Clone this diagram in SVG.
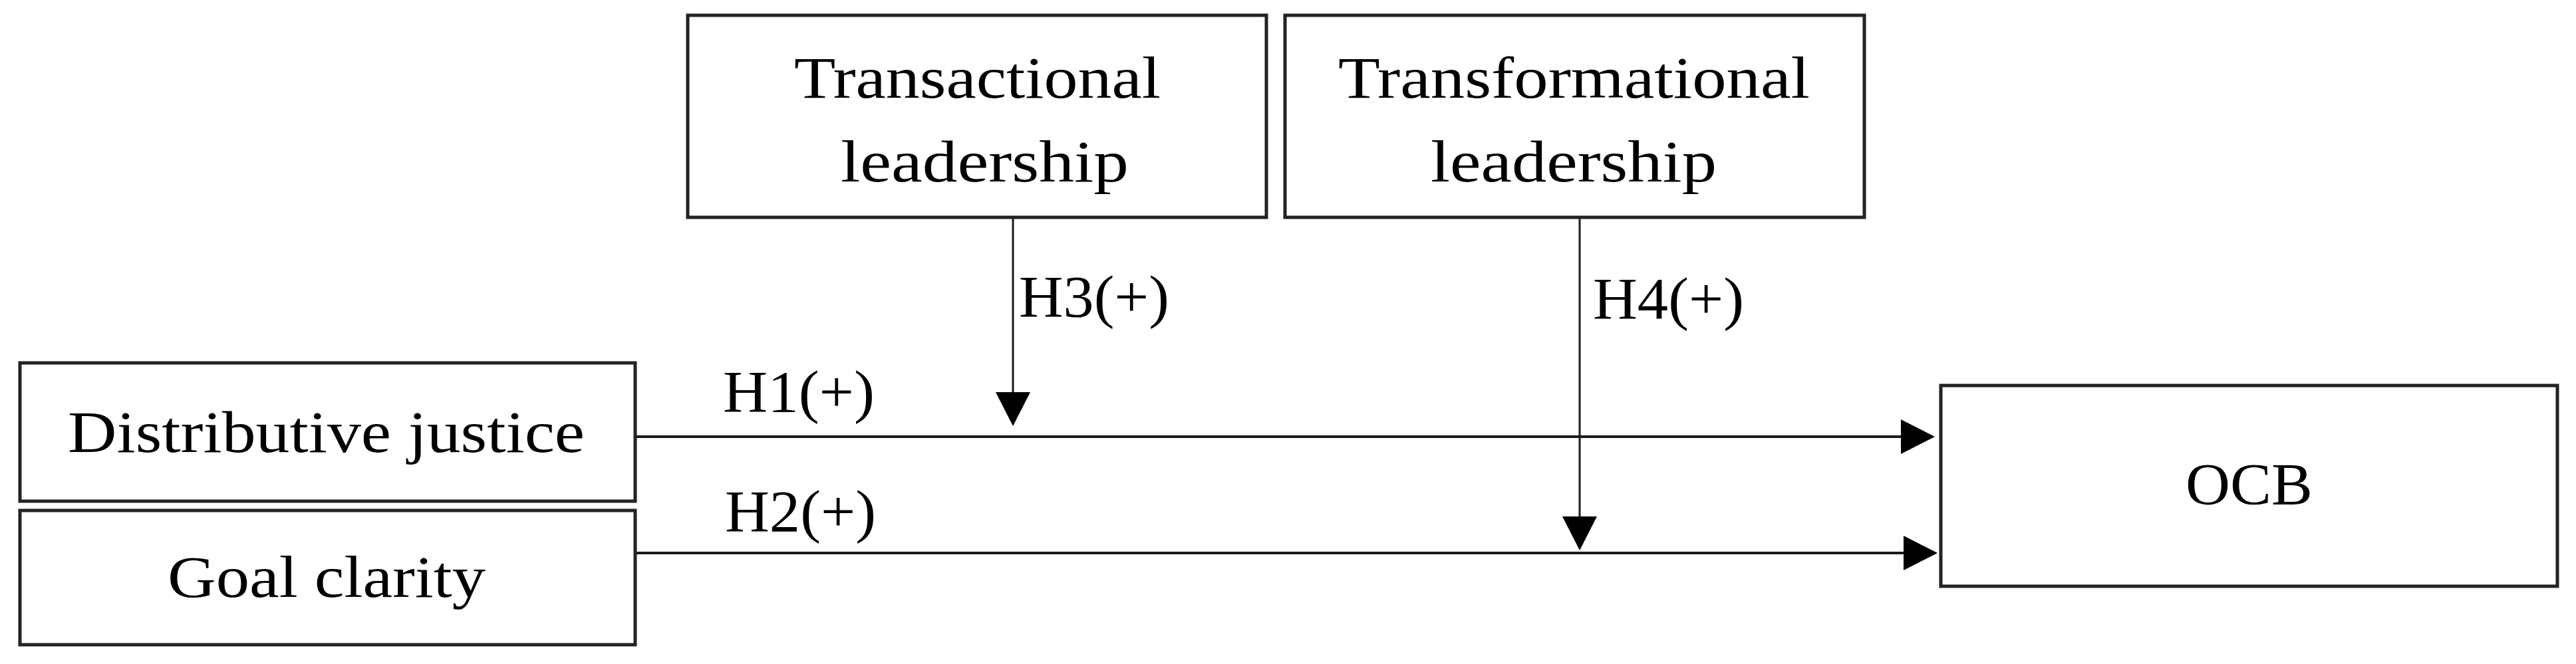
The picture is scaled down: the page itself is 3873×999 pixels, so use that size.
<svg xmlns="http://www.w3.org/2000/svg" width="3873" height="999" viewBox="0 0 3873 999">
  <style>
    .box { fill: #ffffff; stroke: #222222; stroke-width: 5; }
    .lbl { font-family: "Liberation Serif", "DejaVu Serif", serif; font-size: 88px; fill: #000000; }
    .conn { stroke: #1a1a1a; stroke-width: 4; fill: none; }
    .vconn { stroke: #1a1a1a; stroke-width: 3; fill: none; }
  </style>
  <defs>
    <marker id="arrow" viewBox="0 0 51 52" markerWidth="51" markerHeight="52" refX="41" refY="26" orient="auto" markerUnits="userSpaceOnUse">
      <path d="M0,0 L51,26 L0,52 Z" fill="#000000"/>
    </marker>
  </defs>
  <rect width="3873" height="999" fill="#ffffff"/>

  <g id="connectors">
    <line class="conn" x1="955" y1="657" x2="2899" y2="657" marker-end="url(#arrow)"/>
    <line class="conn" x1="955" y1="832" x2="2903" y2="832" marker-end="url(#arrow)"/>
    <line class="vconn" x1="1523" y1="327" x2="1523" y2="631" marker-end="url(#arrow)"/>
    <line class="vconn" x1="2375" y1="322" x2="2375" y2="818" marker-end="url(#arrow)"/>
    <text class="lbl" x="1087" y="619" textLength="228" lengthAdjust="spacingAndGlyphs">H1(+)</text>
    <text class="lbl" x="1090" y="799" textLength="227" lengthAdjust="spacingAndGlyphs">H2(+)</text>
    <text class="lbl" x="1532" y="476" textLength="226" lengthAdjust="spacingAndGlyphs">H3(+)</text>
    <text class="lbl" x="2395" y="479" textLength="227" lengthAdjust="spacingAndGlyphs">H4(+)</text>
  </g>

  <g id="node-distributive-justice">
    <rect class="box" x="30" y="546" width="925" height="208"/>
    <text class="lbl" x="102" y="680" textLength="777" lengthAdjust="spacingAndGlyphs">Distributive justice</text>
  </g>

  <g id="node-goal-clarity">
    <rect class="box" x="30" y="768" width="925" height="202"/>
    <text class="lbl" x="252" y="898" textLength="478" lengthAdjust="spacingAndGlyphs">Goal clarity</text>
  </g>

  <g id="node-transactional-leadership">
    <rect class="box" x="1034" y="23" width="870" height="304"/>
    <text class="lbl" x="1194" y="147" textLength="551" lengthAdjust="spacingAndGlyphs">Transactional</text>
    <text class="lbl" x="1264" y="273" textLength="433" lengthAdjust="spacingAndGlyphs">leadership</text>
  </g>

  <g id="node-transformational-leadership">
    <rect class="box" x="1932" y="23" width="871" height="304"/>
    <text class="lbl" x="2012" y="147" textLength="709" lengthAdjust="spacingAndGlyphs">Transformational</text>
    <text class="lbl" x="2151" y="273" textLength="430" lengthAdjust="spacingAndGlyphs">leadership</text>
  </g>

  <g id="node-ocb">
    <rect class="box" x="2918" y="580" width="927" height="302"/>
    <text class="lbl" x="3286" y="758" textLength="191" lengthAdjust="spacingAndGlyphs">OCB</text>
  </g>
</svg>
